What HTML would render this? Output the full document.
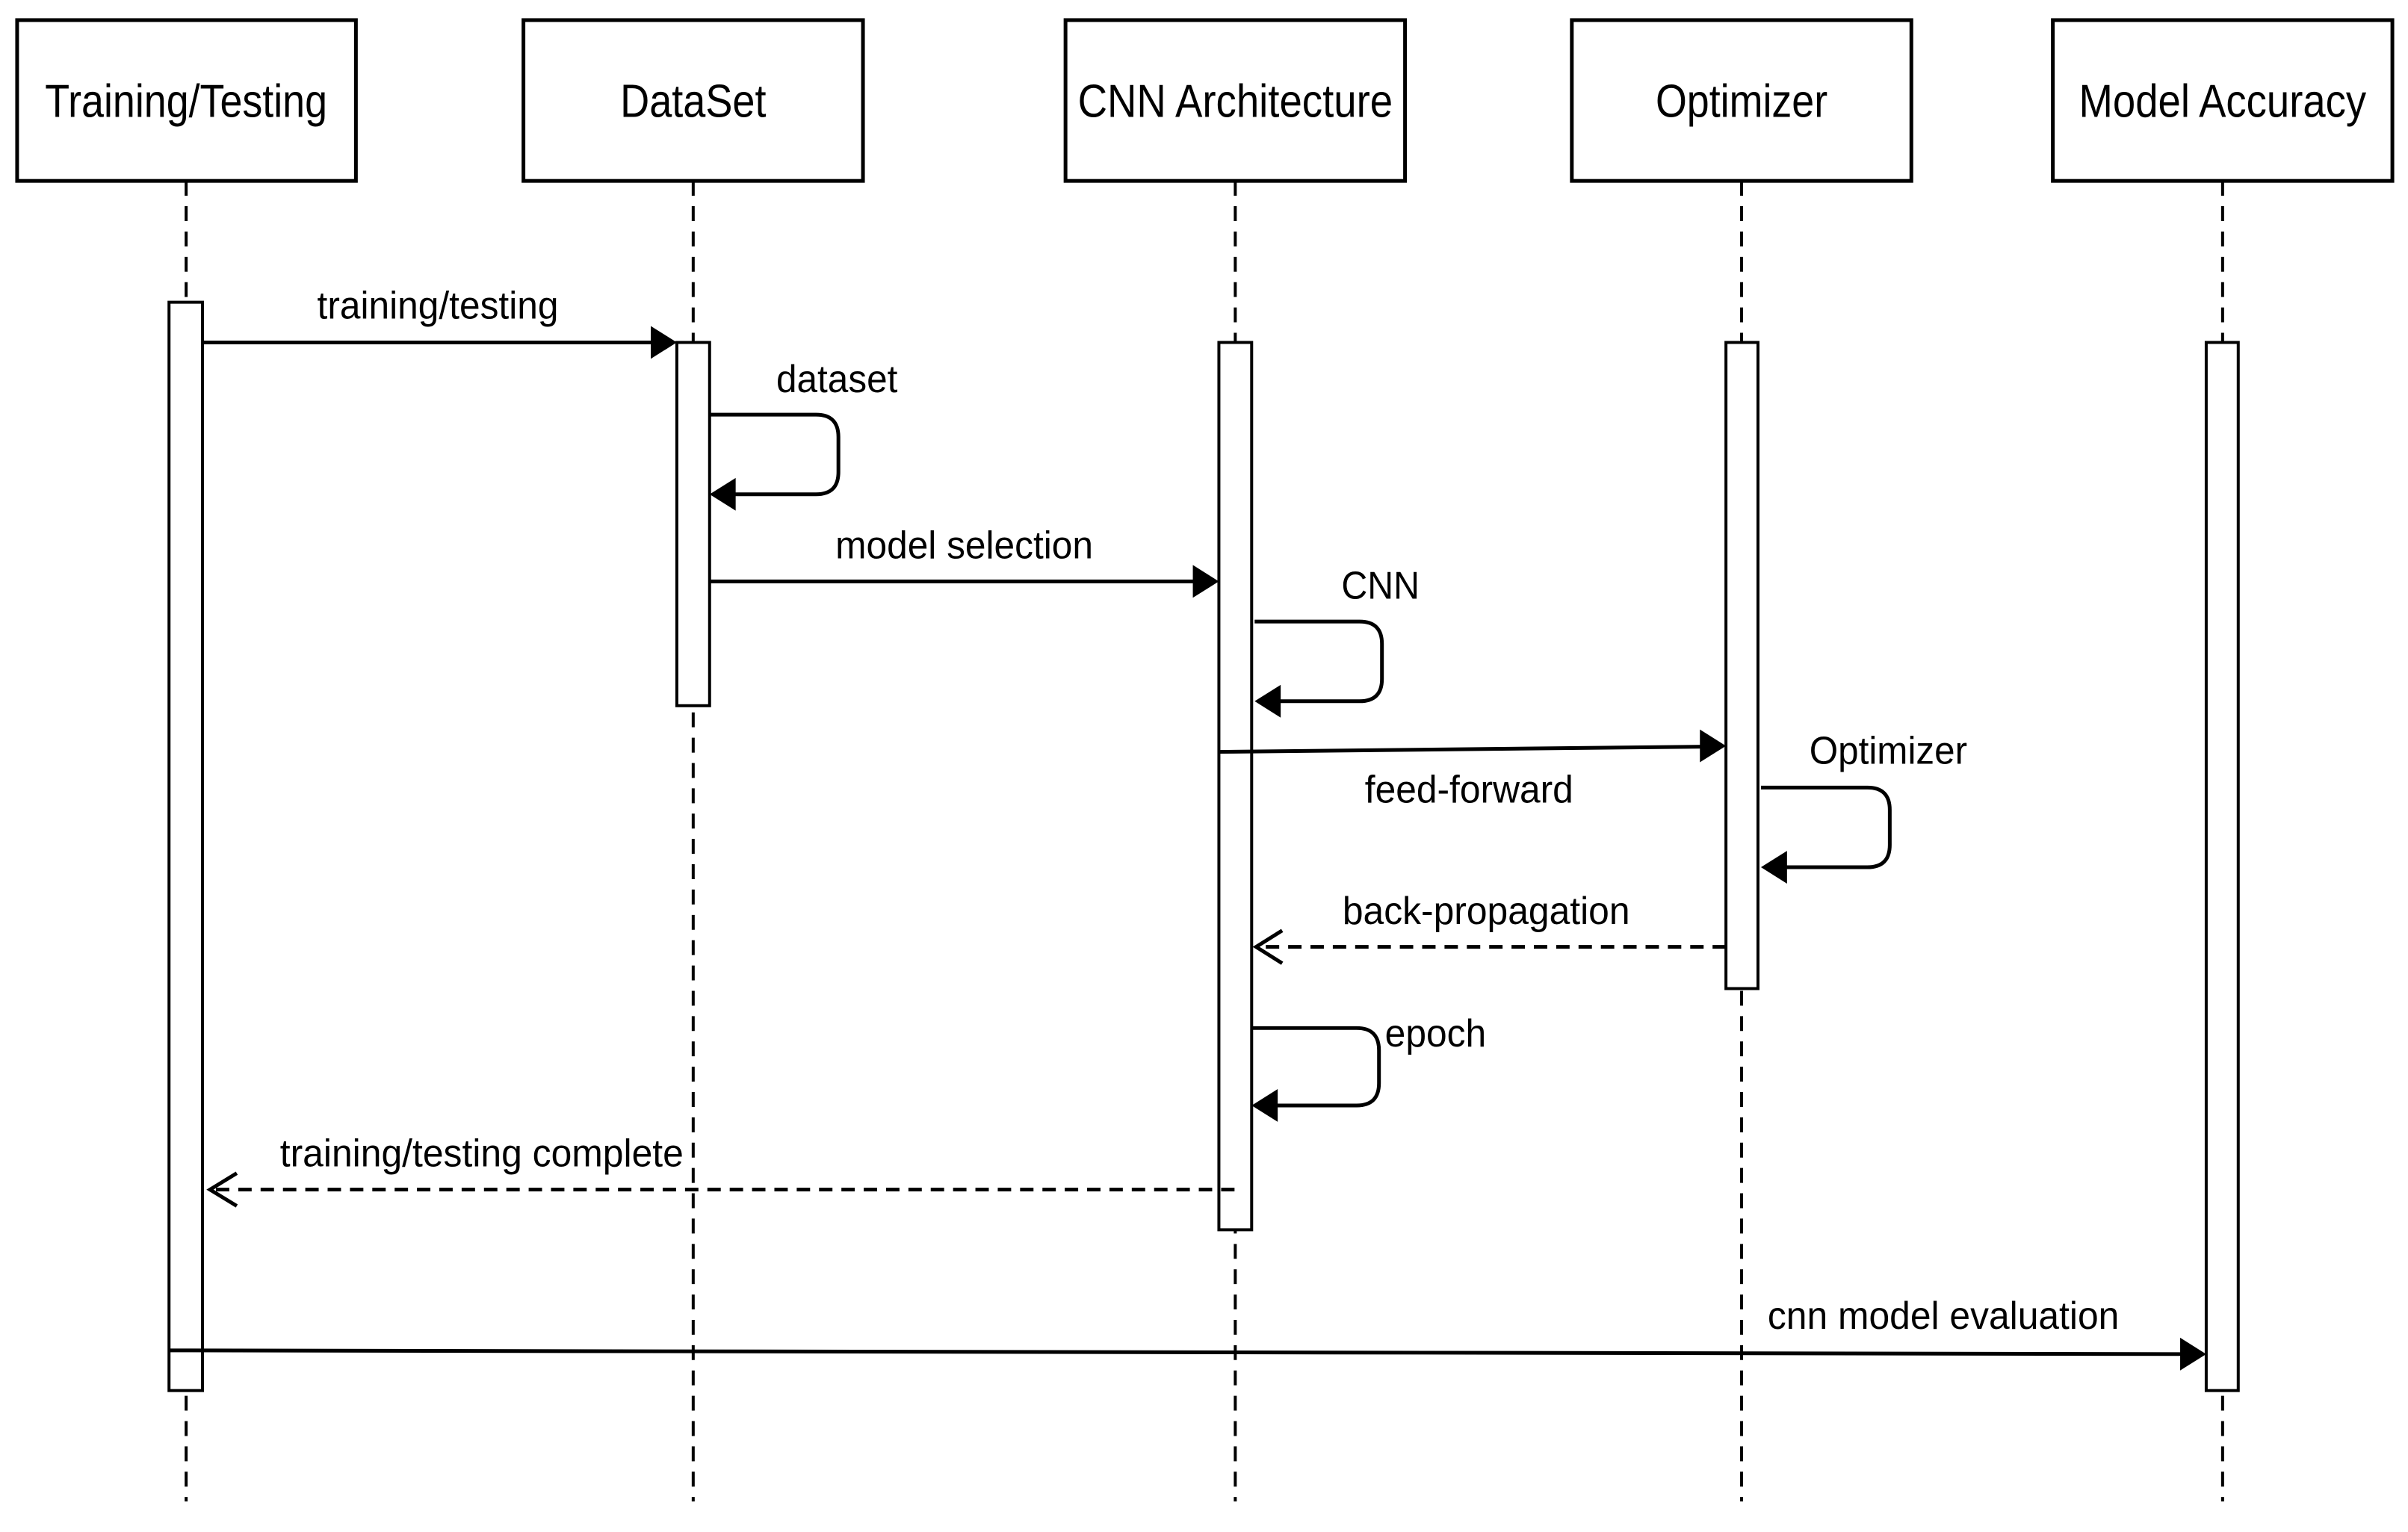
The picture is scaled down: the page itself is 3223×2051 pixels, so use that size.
<!DOCTYPE html>
<html><head><style>html,body{margin:0;padding:0;background:#fff}</style></head><body>
<svg width="3223" height="2046" viewBox="0 0 3223 2046" xmlns="http://www.w3.org/2000/svg" font-family="Liberation Sans, Arial, sans-serif">
<g transform="scale(0.9966)">
<g fill="#fff" stroke="#000" stroke-width="5">
<rect x="23" y="27" width="455" height="216"/>
<rect x="703" y="27" width="456" height="216"/>
<rect x="1431" y="27" width="456" height="216"/>
<rect x="2111" y="27" width="456" height="216"/>
<rect x="2757" y="27" width="456" height="216"/>
</g>
<g stroke="#000" stroke-width="4" stroke-dasharray="20,14">
<line x1="250" y1="243" x2="250" y2="2017"/>
<line x1="931" y1="243" x2="931" y2="2017"/>
<line x1="1659" y1="243" x2="1659" y2="2017"/>
<line x1="2339" y1="243" x2="2339" y2="2017"/>
<line x1="2985" y1="243" x2="2985" y2="2017"/>
</g>
<g fill="#fff" stroke="#000" stroke-width="4">
<rect x="227" y="406" width="45" height="1462"/>
<rect x="909" y="460" width="44" height="488"/>
<rect x="1637" y="460" width="44" height="1192"/>
<rect x="2318" y="460" width="43" height="868"/>
<rect x="2963" y="460" width="43" height="1408"/>
</g>
<g fill="none" stroke="#000" stroke-width="5">
<line x1="272" y1="460" x2="880" y2="460"/>
<path d="M953 557 H1096 Q1126 557 1126 587 V634 Q1126 664 1096 664 H985"/>
<line x1="953" y1="781" x2="1608" y2="781"/>
<path d="M1685 835 H1826 Q1856 835 1856 865 V912 Q1856 942 1826 942 H1715"/>
<line x1="1637" y1="1010" x2="2289" y2="1003"/>
<path d="M2365 1058 H2508 Q2538 1058 2538 1088 V1135 Q2538 1165 2508 1165 H2395"/>
<line x1="2318" y1="1272" x2="1690" y2="1272" stroke-dasharray="18,12"/>
<polyline points="1722,1250 1687,1272 1722,1294"/>
<path d="M1681 1381 H1822 Q1852 1381 1852 1411 V1455 Q1852 1485 1822 1485 H1710"/>
<line x1="1658" y1="1598" x2="282" y2="1598" stroke-dasharray="18,12"/>
<polyline points="318,1576 282,1598 318,1620"/>
<line x1="227" y1="1814" x2="2934" y2="1819"/>
</g>
<g fill="#000">
<polygon points="909,460 874,438 874,482"/>
<polygon points="953,664 988,642 988,686"/>
<polygon points="1637,781 1602,759 1602,803"/>
<polygon points="1685,942 1720,920 1720,964"/>
<polygon points="2318,1002 2283,980 2283,1024"/>
<polygon points="2365,1165 2400,1143 2400,1187"/>
<polygon points="1681,1485 1716,1463 1716,1507"/>
<polygon points="2963,1819 2928,1797 2928,1841"/>
</g>
<g font-size="62" text-anchor="middle" fill="#000">
<text x="250" y="157" textLength="379" lengthAdjust="spacingAndGlyphs">Training/Testing</text>
<text x="931" y="157" textLength="196" lengthAdjust="spacingAndGlyphs">DataSet</text>
<text x="1659" y="157" textLength="423" lengthAdjust="spacingAndGlyphs">CNN Architecture</text>
<text x="2339" y="157" textLength="231" lengthAdjust="spacingAndGlyphs">Optimizer</text>
<text x="2985" y="157" textLength="386" lengthAdjust="spacingAndGlyphs">Model Accuracy</text>
</g>
<g font-size="52" text-anchor="middle" fill="#000">
<text x="588" y="428" textLength="324" lengthAdjust="spacingAndGlyphs">training/testing</text>
<text x="1124" y="527" textLength="163" lengthAdjust="spacingAndGlyphs">dataset</text>
<text x="1295" y="750" textLength="346" lengthAdjust="spacingAndGlyphs">model selection</text>
<text x="1854" y="804" textLength="105" lengthAdjust="spacingAndGlyphs">CNN</text>
<text x="1973" y="1078" textLength="280" lengthAdjust="spacingAndGlyphs">feed-forward</text>
<text x="2536" y="1026" textLength="212" lengthAdjust="spacingAndGlyphs">Optimizer</text>
<text x="1996" y="1241" textLength="386" lengthAdjust="spacingAndGlyphs">back-propagation</text>
<text x="1928" y="1406" textLength="136" lengthAdjust="spacingAndGlyphs">epoch</text>
<text x="647" y="1567" textLength="542" lengthAdjust="spacingAndGlyphs">training/testing complete</text>
<text x="2610" y="1785" textLength="472" lengthAdjust="spacingAndGlyphs">cnn model evaluation</text>
</g>
</g>
</svg>
</body></html>
